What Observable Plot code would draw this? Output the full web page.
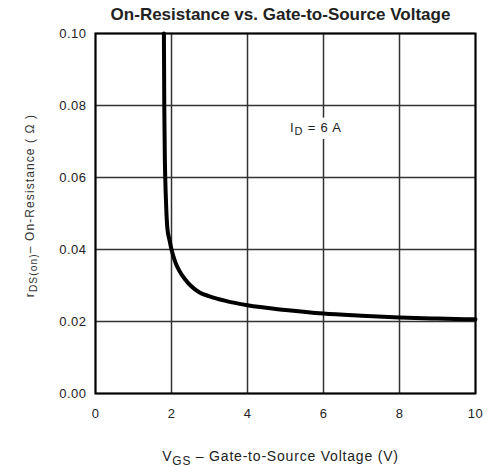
<!DOCTYPE html>
<html>
<head>
<meta charset="utf-8">
<script src="https://cdn.jsdelivr.net/npm/d3@7"></script>
<script src="https://cdn.jsdelivr.net/npm/@observablehq/plot@0.6"></script>
<style>
  html, body { margin: 0; padding: 0; background: #fff; }
  svg { display: block; }
</style>
</head>
<body>
<div id="chart"></div>
<script>
const title = "On-Resistance vs. Gate-to-Source Voltage";
const xLabel = "VGS – Gate-to-Source Voltage (V)";
const yLabel = "rDS(on)– On-Resistance ( Ω )";
const annotation = "ID = 6 A";

const vgs = [1.80, 1.81, 1.825, 1.835, 1.86, 1.89, 1.95, 2.00, 2.1, 2.2, 2.35, 2.5, 2.75, 3.0, 3.4, 4.0, 5.0, 6.0, 7.0, 8.0, 9.0, 10.0];
const rds = [0.100, 0.080, 0.065, 0.060, 0.052, 0.046, 0.0425, 0.0400, 0.0365, 0.0342, 0.0318, 0.0300, 0.0280, 0.0270, 0.0258, 0.0245, 0.0232, 0.0222, 0.0216, 0.0211, 0.0208, 0.0206];

const xTicks = [0, 2, 4, 6, 8, 10];
const xTickLabels = ["0", "2", "4", "6", "8", "10"];
const yTicks = [0, 0.02, 0.04, 0.06, 0.08, 0.10];
const yTickLabels = ["0.00", "0.02", "0.04", "0.06", "0.08", "0.10"];

const annX = [5.8];
const annY = [0.0739];

const data = vgs.map((v, i) => ({v, r: rds[i]}));
const font = "'Liberation Sans', Arial, sans-serif";

const plot = Plot.plot({
  width: 488,
  height: 467,
  marginLeft: 95,
  marginRight: 13,
  marginTop: 33,
  marginBottom: 74,
  style: {fontFamily: font, background: "#fff", color: "#222"},
  x: {domain: [0, 10]},
  y: {domain: [0, 0.10]},
  marks: [
    Plot.gridX(xTicks, {stroke: "#333", strokeOpacity: 1, strokeWidth: 1.5}),
    Plot.gridY(yTicks, {stroke: "#333", strokeOpacity: 1, strokeWidth: 1.5}),
    Plot.text([annotation], {
      x: annX, y: annY, text: d => d, fontSize: 13, fill: "#222",
      textAnchor: "middle", lineAnchor: "middle", className: "annot"
    }),
    Plot.line(data, {x: "v", y: "r", stroke: "black", strokeWidth: 4, curve: "monotone-x"}),
    Plot.frame({stroke: "black", strokeWidth: 2}),
    Plot.axisX(xTicks, {
      tickSize: 0, tickPadding: 15, fontSize: 13, label: null, className: "xax",
      tickFormat: d => xTickLabels[xTicks.indexOf(d)]
    }),
    Plot.axisY(yTicks, {
      tickSize: 0, tickPadding: 9, fontSize: 13, label: null, className: "yax",
      tickFormat: d => yTickLabels[yTicks.indexOf(d)]
    }),
    Plot.text([title], {
      frameAnchor: "top", dy: -19, dx: -5, fontSize: 17, fontWeight: "bold",
      fill: "#222", lineAnchor: "middle", text: d => d
    }),
    Plot.text([xLabel], {
      frameAnchor: "bottom", dy: 63, dx: -5, fontSize: 14, fill: "#222",
      lineAnchor: "middle", text: d => d, className: "xlab"
    }),
    Plot.text([yLabel], {
      frameAnchor: "left", dx: -65, dy: -8, rotate: -90, fontSize: 12, fill: "#333",
      textAnchor: "middle", lineAnchor: "middle", text: d => d, className: "ylab"
    })
  ]
});

document.getElementById("chart").appendChild(plot);

// letter spacing to mimic the spaced scan type
d3.select(plot).selectAll(".xlab text").attr("letter-spacing", "0.8px");
d3.select(plot).selectAll(".ylab text").attr("letter-spacing", "1.1px");
d3.select(plot).selectAll(".annot text").attr("letter-spacing", "0.8px");
d3.select(plot).selectAll(".xax text, .yax text").attr("letter-spacing", "0.5px");

// Add subscripts as real text via tspans
function subscriptify(full, parts) {
  plot.querySelectorAll("text").forEach(t => {
    if (t.textContent === full && t.children.length === 0) {
      t.textContent = "";
      parts.forEach(([s, sub]) => {
        const ts = document.createElementNS("http://www.w3.org/2000/svg", "tspan");
        ts.textContent = s;
        if (sub) {
          ts.setAttribute("baseline-shift", "-30%");
          ts.setAttribute("font-size", "85%");
        }
        t.appendChild(ts);
      });
    }
  });
}
subscriptify(xLabel, [["V", false], ["GS", true], [" – Gate-to-Source Voltage (V)", false]]);
subscriptify(yLabel, [["r", false], ["DS(on)", true], ["– On-Resistance ( Ω )", false]]);
subscriptify(annotation, [["I", false], ["D", true], [" = 6 A", false]]);

// white knock-out box behind the annotation (breaks the grid line, as in the original)
plot.querySelectorAll(".annot text").forEach(t => {
  const b = t.getBBox();
  const rect = document.createElementNS("http://www.w3.org/2000/svg", "rect");
  rect.setAttribute("x", b.x - 3);
  rect.setAttribute("y", b.y - 2);
  rect.setAttribute("width", b.width + 6);
  rect.setAttribute("height", b.height + 4);
  rect.setAttribute("fill", "white");
  const tr = t.getAttribute("transform");
  if (tr) rect.setAttribute("transform", tr);
  t.parentNode.insertBefore(rect, t);
});
</script>
</body>
</html>
